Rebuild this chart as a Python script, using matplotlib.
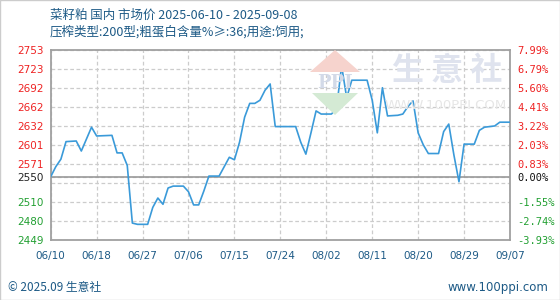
import numpy as np
import pandas as pd
import matplotlib
matplotlib.use("Agg")
from matplotlib import pyplot as plt
from matplotlib.patches import Polygon, Rectangle

# price series (yuan/ton)
dates = ["2025-06-10", "2025-06-11", "2025-06-12", "2025-06-13", "2025-06-15", "2025-06-16",
         "2025-06-18", "2025-06-19", "2025-06-22", "2025-06-23", "2025-06-24", "2025-06-25",
         "2025-06-26", "2025-06-27", "2025-06-29", "2025-06-30", "2025-07-01", "2025-07-02",
         "2025-07-03", "2025-07-04", "2025-07-06", "2025-07-07", "2025-07-08", "2025-07-09",
         "2025-07-10", "2025-07-11", "2025-07-13", "2025-07-14", "2025-07-15", "2025-07-16",
         "2025-07-17", "2025-07-18", "2025-07-19", "2025-07-20", "2025-07-21", "2025-07-22",
         "2025-07-23", "2025-07-24", "2025-07-28", "2025-07-29", "2025-07-30", "2025-07-31",
         "2025-08-01", "2025-08-02", "2025-08-04", "2025-08-05", "2025-08-06", "2025-08-07",
         "2025-08-08", "2025-08-11", "2025-08-12", "2025-08-13", "2025-08-14", "2025-08-15",
         "2025-08-17", "2025-08-18", "2025-08-19", "2025-08-20", "2025-08-21", "2025-08-22",
         "2025-08-23", "2025-08-25", "2025-08-26", "2025-08-27", "2025-08-28", "2025-08-29",
         "2025-08-30", "2025-09-01", "2025-09-02", "2025-09-03", "2025-09-05", "2025-09-06",
         "2025-09-08"]
prices = [2550, 2566, 2578, 2606, 2607, 2591,
          2629, 2615, 2616, 2588, 2588, 2568,
          2476, 2474, 2474, 2501, 2516, 2506,
          2532, 2535, 2535, 2526, 2505, 2505,
          2527, 2551, 2551, 2566, 2581, 2577,
          2605, 2645, 2667, 2667, 2672, 2688,
          2698, 2630, 2630, 2605, 2586, 2620,
          2655, 2650, 2650, 2658, 2727, 2676,
          2704, 2704, 2672, 2620, 2692, 2647,
          2648, 2650, 2662, 2671, 2620, 2601,
          2587, 2587, 2622, 2634, 2585, 2542,
          2602, 2602, 2624, 2629, 2631, 2637,
          2637]

start_date = "2025-06-10"
end_date = "2025-09-08"
base_price = 2549.4
y_min, y_max = 2449, 2753

left_labels = ["2449", "2480", "2510", "", "2571", "2601", "2632", "2662", "2692", "2723", "2753"]
right_labels = ["-3.93%", "-2.74%", "-1.55%", "", "0.83%", "2.03%", "3.22%", "4.41%",
                "5.60%", "6.79%", "7.99%"]
x_labels = ["06/10", "06/18", "06/27", "07/06", "07/15", "07/24", "08/02", "08/11",
            "08/20", "08/29", "09/07"]

title_1 = "菜籽粕 国内 市场价 2025-06-10 - 2025-09-08"
title_2 = "压榨类型:200型;粗蛋白含量%≥:36;用途:饲用;"

plt.rcParams['font.family'] = ['Noto Sans CJK SC', 'DejaVu Sans']

RED = "#ee2222"
GREEN = "#22a032"
NAVY = "#1d5a86"

d = pd.to_datetime(dates)
t0 = pd.Timestamp(start_date)
days = np.array((d - t0).days)
span = (pd.Timestamp(end_date) - t0).days

fig = plt.figure(figsize=(5.6, 3.0), dpi=100)
ax = fig.add_axes([50.7 / 560, 1 - 240 / 300, (510 - 50.7) / 560, (240 - 49.5) / 300])

# watermark
fig.text(447 / 560, 1 - 71 / 300, "生 意 社", fontsize=23, color="#dfe3ee",
         ha="center", va="center", fontweight="bold", zorder=0)
fig.text(446 / 560, 1 - 106 / 300, "WWW.100PPI.COM", fontsize=9.5, color="#e6e6e6",
         ha="center", va="center", family="DejaVu Sans", zorder=0)
fig.patches.append(Polygon([[310 / 560, 1 - 72 / 300], [335 / 560, 1 - 50 / 300],
                            [360 / 560, 1 - 72 / 300]], closed=True,
                           transform=fig.transFigure, fc="#f6d3cd", ec="none", zorder=0))
fig.patches.append(Polygon([[312 / 560, 1 - 93 / 300], [335 / 560, 1 - 115 / 300],
                            [358 / 560, 1 - 93 / 300]], closed=True,
                           transform=fig.transFigure, fc="#d4ead4", ec="none", zorder=0))
fig.text(335 / 560, 1 - 83 / 300, "PPI", fontsize=13, color="#d3dae8", ha="center",
         va="center", family="DejaVu Serif", fontweight="bold", zorder=0)
ax.set_facecolor("none")

ax.plot(days, prices, color="#3a9ad9", lw=1.2, zorder=3)
ax.axhline(base_price, color="#999999", lw=1.2, zorder=2)

grid_vals = np.linspace(y_min, y_max, 11)
ax.set_xlim(0, span)
ax.set_ylim(y_min, y_max)
ax.set_xticks(np.linspace(0, span, 11))
ax.set_xticklabels(x_labels)
ax.set_yticks(list(grid_vals) + [base_price])
ax.set_yticklabels(left_labels + ["2550"])
ax.grid(True, ls=(0, (3, 2)), color="#cccccc", lw=0.9)
for lbl, v in zip(ax.get_yticklabels(), list(grid_vals) + [base_price]):
    if abs(v - base_price) < 1:
        lbl.set_color("#222222")
    elif v > base_price:
        lbl.set_color(RED)
    else:
        lbl.set_color(GREEN)
ax.tick_params(axis="y", length=0, pad=24, labelsize=7.5)
for lbl in ax.get_yticklabels():
    lbl.set_horizontalalignment("left")
    lbl.set_family("DejaVu Sans")
ax.tick_params(axis="x", length=0, pad=8, labelsize=7.5, colors=NAVY)
for lbl in ax.get_xticklabels():
    lbl.set_family("DejaVu Sans")
for s in ax.spines.values():
    s.set_color("#a0a0a0")
    s.set_linewidth(1.3)

ax2 = ax.twinx()
ax2.set_ylim(y_min, y_max)
ax2.set_yticks(list(grid_vals) + [base_price])
ax2.set_yticklabels(right_labels + ["0.00%"])
for lbl, v in zip(ax2.get_yticklabels(), list(grid_vals) + [base_price]):
    lbl.set_family("DejaVu Sans Mono")
    if abs(v - base_price) < 1:
        lbl.set_color("#111111")
    elif v > base_price:
        lbl.set_color(RED)
    else:
        lbl.set_color(GREEN)
ax2.tick_params(axis="y", length=0, pad=5, labelsize=7.5)
for s in ax2.spines.values():
    s.set_visible(False)

fig.text(50 / 560, 1 - 15 / 300, title_1, fontsize=9, color=NAVY, va="center")
fig.text(50 / 560, 1 - 32 / 300, title_2, fontsize=9, color=NAVY, va="center")
fig.text(8 / 560, 1 - 287 / 300, "© 2025.09 生意社", fontsize=8.5, color=NAVY, va="center")
fig.text(548 / 560, 1 - 287 / 300, "www.100ppi.com", fontsize=8.5, color=NAVY,
         va="center", ha="right", family="DejaVu Sans")

fig.patches.append(Rectangle((0, 0), 1, 1, transform=fig.transFigure, fill=False,
                             ec="#cccccc", lw=1))

fig.savefig("out.png", dpi=100)
